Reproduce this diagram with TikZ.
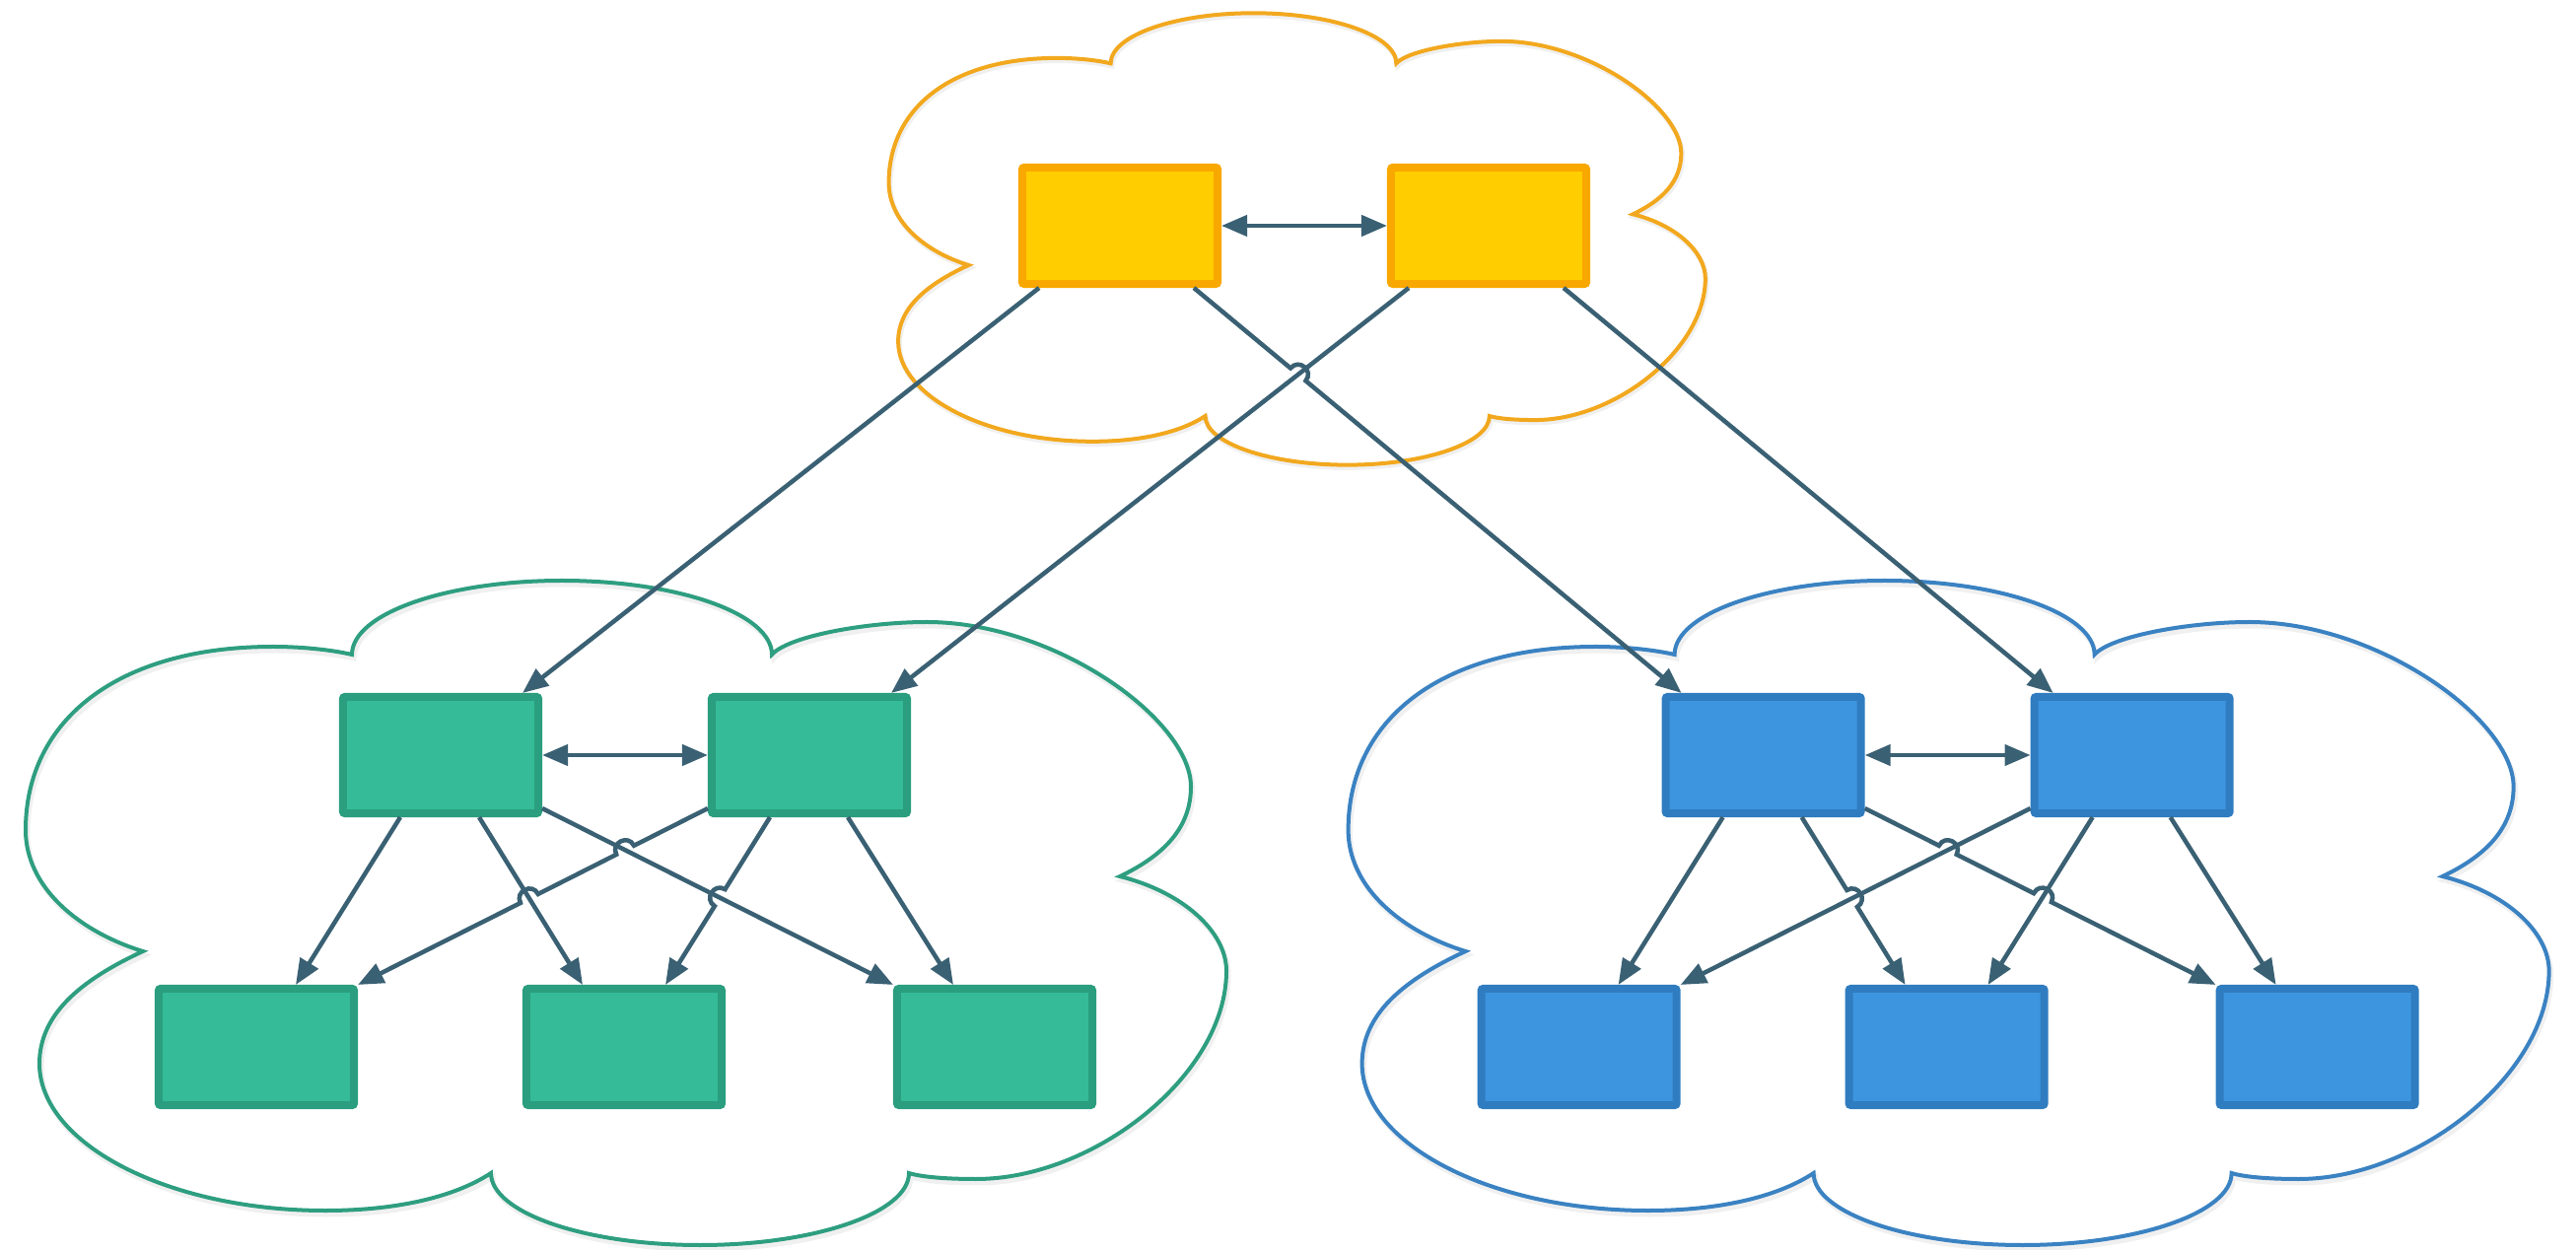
\documentclass[tikz,border=0pt]{standalone}
\usetikzlibrary{calc,arrows.meta,shadows}
\definecolor{ink}{HTML}{3A6073}
\definecolor{yfill}{HTML}{FFCD00}
\definecolor{yline}{HTML}{F9A800}
\definecolor{ycloud}{HTML}{F2A81E}
\definecolor{gfill}{HTML}{35BB97}
\definecolor{gline}{HTML}{2A9E7E}
\definecolor{gcloud}{HTML}{2E9E80}
\definecolor{bfill}{HTML}{3D95DF}
\definecolor{bline}{HTML}{307CC0}
\definecolor{bcloud}{HTML}{3A82C2}
\newcommand\cloudoutline[1]{\draw[#1] (357,664)
 .. controls (357,622.6) and (452.4,589) .. (570,589)
 .. controls (687.6,589) and (783,622.6) .. (783,664)
 .. controls (800,645) and (880,631) .. (940,631)
 .. controls (1070,631) and (1208,730) .. (1208,798)
 .. controls (1208,840) and (1180,868) .. (1136,889)
 .. controls (1200,905) and (1244,945) .. (1244,985)
 .. controls (1244,1090) and (1110,1196) .. (990,1196)
 .. controls (960,1196) and (935,1194) .. (922,1190)
 .. controls (922,1230) and (827,1263) .. (710,1263)
 .. controls (593,1263) and (498,1230) .. (498,1190)
 .. controls (460,1215) and (400,1228) .. (330,1228)
 .. controls (170,1228) and (40,1160) .. (40,1079)
 .. controls (40,1030) and (80,995) .. (145,965)
 .. controls (80,945) and (26,900) .. (26,842)
 .. controls (26,730) and (120,656) .. (277,656)
 .. controls (310,656) and (340,660) .. (357,664) -- cycle;}
\newcommand\jumpr{0.1cm}
\begin{document}
\begin{tikzpicture}[x=0.01cm,y=-0.01cm,
  >={Triangle[length=0.26cm,width=0.21cm]},
  cloudline/.style={line width=0.04cm},
  cloudshade/.style={draw=black,opacity=0.06,line width=0.05cm},
  boxbase/.style={rectangle,minimum width=1.98cm,minimum height=1.18cm,inner sep=0pt,
    line width=0.08cm,rounded corners=0.02cm,
    drop shadow={shadow xshift=0cm,shadow yshift=-0.03cm,opacity=0.15}},
  yellowbox/.style={boxbase,fill=yfill,draw=yline},
  greenbox/.style={boxbase,fill=gfill,draw=gline},
  bluebox/.style={boxbase,fill=bfill,draw=bline},
  conn/.style={draw=ink,line width=0.045cm,->},
  twoway/.style={draw=ink,line width=0.045cm,<->},
  jumpL/.style={bend left=90,looseness=1.7},
  jumpR/.style={bend right=90,looseness=1.7}]
\useasboundingbox (0,0) rectangle (2613,1268);

% clouds
\begin{scope}[shift={(883.9,-387.2)},scale=0.68]
  \begin{scope}[shift={(2,4)}]\cloudoutline{cloudshade}\end{scope}
  \cloudoutline{cloudline,draw=ycloud}
\end{scope}
\begin{scope}[shift={(2,4)}]\cloudoutline{cloudshade}\end{scope}
\cloudoutline{cloudline,draw=gcloud}
\begin{scope}[shift={(1341.6,0)}]
  \begin{scope}[shift={(2,4)}]\cloudoutline{cloudshade}\end{scope}
  \cloudoutline{cloudline,draw=bcloud}
\end{scope}

% boxes
\node[yellowbox] (Y1) at (1136,229) {};
\node[yellowbox] (Y2) at (1510,229) {};
\node[greenbox] (G1) at (447,766) {};
\node[greenbox] (G2) at (821,766) {};
\node[greenbox] (G3) at (260,1062) {};
\node[greenbox] (G4) at (633,1062) {};
\node[greenbox] (G5) at (1009,1062) {};
\node[bluebox] (B1) at (1788.6,766) {};
\node[bluebox] (B2) at (2162.6,766) {};
\node[bluebox] (B3) at (1601.6,1062) {};
\node[bluebox] (B4) at (1974.6,1062) {};
\node[bluebox] (B5) at (2350.6,1062) {};

% two-way links
\draw[twoway] (Y1.east) -- (Y2.west);
\draw[twoway] (G1.east) -- (G2.west);
\draw[twoway] (B1.east) -- (B2.west);

% top links
\coordinate (t1s) at ($(Y1.south)+(75,0)$);
\coordinate (t1e) at ($(B1.north)+(-83,0)$);
\coordinate (t2s) at ($(Y2.south)+(-81,0)$);
\coordinate (t2e) at ($(G2.north)+(83,0)$);
\draw[conn] ($(Y1.south)+(-82,0)$) -- ($(G1.north)+(83,0)$);
\draw[conn] (t2s) -- (t2e);
\draw[conn] ($(Y2.south)+(76,0)$) -- ($(B2.north)+(-80,0)$);
\coordinate (xt) at (intersection of t1s--t1e and t2s--t2e);
\draw[conn] (t1s) -- ($(xt)!\jumpr!(t1s)$) to[jumpL] ($(xt)!\jumpr!(t1e)$) -- (t1e);

% green cloud links
\coordinate (gBs) at ($(G1.south)+(39,0)$);
\coordinate (gBe) at ($(G4.north)+(-42,0)$);
\coordinate (gCs) at ($(G1.south east)+(0,-9)$);
\coordinate (gCe) at (G5.north west);
\coordinate (gDs) at ($(G2.south west)+(0,-9)$);
\coordinate (gDe) at (G3.north east);
\coordinate (gEs) at ($(G2.south)+(-40,0)$);
\coordinate (gEe) at ($(G4.north)+(42,0)$);
\draw[conn] ($(G1.south)+(-41,0)$) -- ($(G3.north)+(40,0)$);
\draw[conn] (gBs) -- (gBe);
\draw[conn] (gCs) -- (gCe);
\draw[conn] ($(G2.south)+(39,0)$) -- ($(G5.north)+(-42,0)$);
\coordinate (xg1) at (intersection of gDs--gDe and gCs--gCe);
\coordinate (xg2) at (intersection of gDs--gDe and gBs--gBe);
\coordinate (xg3) at (intersection of gEs--gEe and gCs--gCe);
\draw[conn] (gDs) -- ($(xg1)!\jumpr!(gDs)$) to[jumpR] ($(xg1)!\jumpr!(gDe)$)
  -- ($(xg2)!\jumpr!(gDs)$) to[jumpR] ($(xg2)!\jumpr!(gDe)$) -- (gDe);
\draw[conn] (gEs) -- ($(xg3)!\jumpr!(gEs)$) to[jumpR] ($(xg3)!\jumpr!(gEe)$) -- (gEe);

% blue cloud links
\coordinate (bBs) at ($(B1.south)+(39,0)$);
\coordinate (bBe) at ($(B4.north)+(-42,0)$);
\coordinate (bCs) at ($(B1.south east)+(0,-9)$);
\coordinate (bCe) at (B5.north west);
\coordinate (bDs) at ($(B2.south west)+(0,-9)$);
\coordinate (bDe) at (B3.north east);
\coordinate (bEs) at ($(B2.south)+(-40,0)$);
\coordinate (bEe) at ($(B4.north)+(42,0)$);
\draw[conn] ($(B1.south)+(-41,0)$) -- ($(B3.north)+(40,0)$);
\draw[conn] (bDs) -- (bDe);
\draw[conn] (bEs) -- (bEe);
\draw[conn] ($(B2.south)+(39,0)$) -- ($(B5.north)+(-42,0)$);
\coordinate (xb1) at (intersection of bCs--bCe and bDs--bDe);
\coordinate (xb2) at (intersection of bCs--bCe and bEs--bEe);
\coordinate (xb3) at (intersection of bBs--bBe and bDs--bDe);
\draw[conn] (bCs) -- ($(xb1)!\jumpr!(bCs)$) to[jumpL] ($(xb1)!\jumpr!(bCe)$)
  -- ($(xb2)!\jumpr!(bCs)$) to[jumpL] ($(xb2)!\jumpr!(bCe)$) -- (bCe);
\draw[conn] (bBs) -- ($(xb3)!\jumpr!(bBs)$) to[jumpL] ($(xb3)!\jumpr!(bBe)$) -- (bBe);
\end{tikzpicture}
\end{document}
